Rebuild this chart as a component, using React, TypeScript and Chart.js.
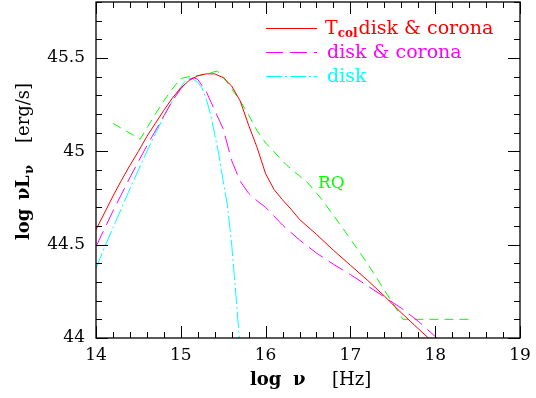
import React, { useEffect, useRef } from 'react';
import { Chart, registerables } from 'chart.js';

Chart.register(...registerables);

// ---- data ----
const xTickValues = [14, 15, 16, 17, 18, 19];
const yTickValues = [44, 44.5, 45, 45.5];

const tcolLogNu = [14.0, 14.1, 14.2, 14.3, 14.4, 14.5, 14.6, 14.7, 14.8, 14.9, 15.0, 15.1, 15.2, 15.3, 15.4, 15.5, 15.6, 15.7, 15.8, 15.9, 16.0, 16.1, 16.2, 16.3, 16.4, 16.6, 16.8, 17.0, 17.2, 17.4, 17.6, 17.8, 17.92];
const tcolLogL = [44.58, 44.67, 44.76, 44.845, 44.925, 45.0, 45.08, 45.15, 45.22, 45.285, 45.34, 45.38, 45.405, 45.415, 45.415, 45.395, 45.35, 45.27, 45.14, 45.02, 44.88, 44.795, 44.74, 44.69, 44.635, 44.555, 44.47, 44.39, 44.31, 44.225, 44.135, 44.05, 44.0];

const diskCoronaLogNu = [14.0, 14.1, 14.2, 14.3, 14.4, 14.5, 14.6, 14.7, 14.8, 14.9, 15.0, 15.1, 15.15, 15.2, 15.3, 15.4, 15.5, 15.6, 15.7, 15.8, 15.9, 16.0, 16.2, 16.4, 16.6, 16.8, 17.0, 17.2, 17.4, 17.6, 17.8, 18.02];
const diskCoronaLogL = [44.49, 44.585, 44.68, 44.77, 44.86, 44.945, 45.03, 45.11, 45.19, 45.27, 45.335, 45.385, 45.395, 45.385, 45.32, 45.22, 45.12, 44.95, 44.84, 44.775, 44.735, 44.70, 44.605, 44.525, 44.455, 44.395, 44.34, 44.28, 44.22, 44.16, 44.09, 44.0];

const diskLogNu = [14.0, 14.1, 14.2, 14.3, 14.4, 14.5, 14.6, 14.7, 14.8, 14.9, 15.0, 15.05, 15.1, 15.15, 15.2, 15.25, 15.3, 15.35, 15.4, 15.45, 15.5, 15.55, 15.6, 15.65, 15.69];
const diskLogL = [44.375, 44.485, 44.59, 44.695, 44.80, 44.90, 45.0, 45.095, 45.185, 45.27, 45.345, 45.375, 45.39, 45.385, 45.37, 45.34, 45.28, 45.2, 45.09, 44.98, 44.84, 44.71, 44.50, 44.23, 44.0];

const rqLogNu = [14.2, 14.52, 14.6, 14.7, 14.8, 14.9, 15.0, 15.1, 15.2, 15.3, 15.43, 15.5, 15.6, 15.7, 15.8, 15.9, 16.0, 16.25, 16.5, 16.65, 16.9, 17.2, 17.62, 18.4];
const rqLogL = [45.15, 45.065, 45.125, 45.2, 45.27, 45.335, 45.39, 45.40, 45.405, 45.415, 45.43, 45.40, 45.335, 45.27, 45.195, 45.11, 45.045, 44.925, 44.83, 44.75, 44.595, 44.4, 44.1, 44.1];

const legendLabels = ['disk & corona', 'disk & corona', 'disk'];
const rqLabel = 'RQ';

const RED = '#ff0000';
const MAGENTA = '#ff00ff';
const CYAN = '#00ffff';
const GREEN = '#00ff00';
const SERIF = '"DejaVu Serif", serif';

const pts = (xs: number[], ys: number[]) => xs.map((x, i) => ({ x, y: ys[i] }));

const decorPlugin = {
  id: 'decor',
  afterDraw(chart: any) {
    const { ctx, chartArea: a, scales } = chart;
    const xs = scales.x;
    const ys = scales.y;
    ctx.save();
    // frame
    ctx.strokeStyle = '#000';
    ctx.lineWidth = 1.3;
    ctx.strokeRect(a.left, a.top, a.right - a.left, a.bottom - a.top);
    // ticks
    ctx.lineWidth = 1;
    ctx.beginPath();
    for (let i = 0; i <= 25; i++) {
      const v = 14 + i * 0.2;
      const px = Math.round(xs.getPixelForValue(v)) + 0.5;
      const major = i % 5 === 0;
      const len = major ? 12 : 6;
      ctx.moveTo(px, a.bottom);
      ctx.lineTo(px, a.bottom - len);
      ctx.moveTo(px, a.top);
      ctx.lineTo(px, a.top + len);
    }
    for (let i = 0; i <= 18; i++) {
      const v = 44 + i * 0.1;
      const py = Math.round(ys.getPixelForValue(v)) + 0.5;
      const major = i % 5 === 0;
      const len = major ? 12 : 6;
      ctx.moveTo(a.left, py);
      ctx.lineTo(a.left + len, py);
      ctx.moveTo(a.right, py);
      ctx.lineTo(a.right - len, py);
    }
    ctx.stroke();

    // legend
    const rows = [
      { color: RED, dash: [] as number[], y: 28 },
      { color: MAGENTA, dash: [17, 7], y: 52 },
      { color: CYAN, dash: [16, 3, 2, 3], y: 76 },
    ];
    rows.forEach((r, i) => {
      ctx.strokeStyle = r.color;
      ctx.lineWidth = 1;
      ctx.setLineDash(r.dash);
      ctx.beginPath();
      ctx.moveTo(266, r.y + 0.5);
      ctx.lineTo(317, r.y + 0.5);
      ctx.stroke();
      ctx.setLineDash([]);
      ctx.fillStyle = r.color;
      ctx.textBaseline = 'alphabetic';
      ctx.textAlign = 'left';
      let tx = 327;
      if (i === 0) {
        ctx.font = `19px ${SERIF}`;
        ctx.fillText('T', 325, r.y + 6);
        tx = 325 + ctx.measureText('T').width;
        ctx.font = `bold 12px ${SERIF}`;
        ctx.fillText('col', tx, r.y + 9);
        tx += ctx.measureText('col').width + 1;
      }
      ctx.font = `19px ${SERIF}`;
      ctx.fillText(legendLabels[i], tx, r.y + 6);
    });

    // RQ label
    ctx.fillStyle = GREEN;
    ctx.font = `17px ${SERIF}`;
    ctx.fillText(rqLabel, 318, 188);

    // x title
    ctx.fillStyle = '#000';
    ctx.font = `bold 18px ${SERIF}`;
    ctx.fillText('log', 250, 385);
    ctx.fillText('\u03bd', 293, 385);
    ctx.font = `18px ${SERIF}`;
    ctx.fillText('[Hz]', 332, 385);

    // y title
    ctx.translate(29, 240);
    ctx.rotate(-Math.PI / 2);
    ctx.font = `bold 18px ${SERIF}`;
    ctx.fillText('log', 0, 0);
    ctx.fillText('\u03bd', 40, 0);
    ctx.fillText('L', 52, 0);
    ctx.font = `bold 13px ${SERIF}`;
    ctx.fillText('\u03bd', 66, 4);
    ctx.font = `18px ${SERIF}`;
    ctx.fillText('[erg/s]', 97, 0);
    ctx.restore();
  },
};

export default function App() {
  const ref = useRef<HTMLCanvasElement>(null);
  useEffect(() => {
    document.body.style.margin = '0';
    const common = { pointRadius: 0, borderWidth: 1, fill: false, tension: 0 };
    const chart = new Chart(ref.current!, {
      type: 'line',
      data: {
        datasets: [
          { ...common, label: 'Tcol disk & corona', data: pts(tcolLogNu, tcolLogL), borderColor: RED },
          { ...common, label: 'disk & corona', data: pts(diskCoronaLogNu, diskCoronaLogL), borderColor: MAGENTA, borderDash: [17, 7] },
          { ...common, label: 'disk', data: pts(diskLogNu, diskLogL), borderColor: CYAN, borderDash: [16, 3, 2, 3] },
          { ...common, label: 'RQ', data: pts(rqLogNu, rqLogL), borderColor: GREEN, borderDash: [9, 6] },
        ],
      },
      options: {
        animation: false,
        responsive: false,
        devicePixelRatio: 1,
        layout: { padding: { top: 2, right: 16, left: 0, bottom: 0 } },
        plugins: { legend: { display: false }, tooltip: { enabled: false } },
        scales: {
          x: {
            type: 'linear',
            min: 14,
            max: 19,
            afterBuildTicks: (s: any) => { s.ticks = xTickValues.map((v) => ({ value: v })); },
            afterFit: (s: any) => { s.height = 60; s.paddingLeft = 0; s.paddingRight = 0; },
            ticks: { color: '#000', font: { family: SERIF, size: 17 }, padding: 7, maxRotation: 0, autoSkip: false, callback: (v: any) => String(v) },
            grid: { display: false, drawTicks: false },
            border: { display: false },
          },
          y: {
            type: 'linear',
            min: 44,
            max: 45.8,
            afterBuildTicks: (s: any) => { s.ticks = yTickValues.map((v) => ({ value: v })); },
            afterFit: (s: any) => { s.width = 96; s.paddingTop = 0; s.paddingBottom = 0; },
            ticks: { color: '#000', font: { family: SERIF, size: 17 }, padding: 11, autoSkip: false, callback: (v: any) => String(v) },
            grid: { display: false, drawTicks: false },
            border: { display: false },
          },
        },
      },
      plugins: [decorPlugin],
    });
    return () => chart.destroy();
  }, []);
  return (
    <div style={{ position: 'absolute', left: 0, top: 0, width: 536, height: 398, background: '#fff' }}>
      <canvas ref={ref} width={536} height={398} style={{ display: 'block', width: 536, height: 398 }} />
    </div>
  );
}
